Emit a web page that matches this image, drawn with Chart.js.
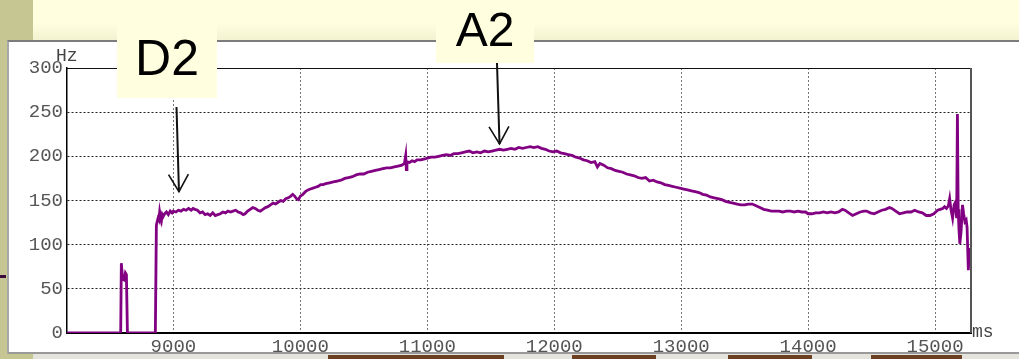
<!DOCTYPE html>
<html>
<head>
<meta charset="utf-8">
<script src="https://cdn.jsdelivr.net/npm/chart.js@4/dist/chart.umd.min.js"></script>
<style>
  body { margin: 0; width: 1019px; height: 359px; overflow: hidden; position: relative; background: #e4e4dc; }
  .bg { position: absolute; }
  #topband { left: 33px; top: 0; width: 986px; height: 41px; background: linear-gradient(to bottom, #ffffe0 0%, #ffffe0 55%, #f2f2d0 100%); }
  #olive { left: 0; top: 0; width: 33px; height: 359px; background: #c6c692; }
  #panel { left: 7px; top: 40px; width: 1012px; height: 314px; background: #fff; border-top: 2px solid #7c7c7c; border-left: 2px solid #a8a8a8; border-bottom: 2px solid #999; box-sizing: border-box; }
  #mark { left: 0; top: 275px; width: 6px; height: 3px; background: #3c0a3c; }
  .blk { top: 355px; height: 4px; background: #6b3f22; }
  canvas { position: absolute; left: 0; top: 0; }
</style>
</head>
<body>
<div class="bg" id="topband"></div>
<div class="bg" id="olive"></div>
<div class="bg" id="panel"></div>
<div class="bg" id="mark"></div>
<div class="bg blk" style="left:328px;width:176px"></div>
<div class="bg blk" style="left:572px;width:84px"></div>
<div class="bg blk" style="left:728px;width:84px"></div>
<div class="bg blk" style="left:871px;width:91px"></div>
<canvas id="pitch" width="1019" height="359"></canvas>
<script>
// time axis (ms) and pitch (Hz)
const timesMs = [
  8162, 8585, 8590, 8600, 8612, 8622, 8630, 8638, 8858, 8866, 8872, 8879, 8886, 8892, 8899, 8906, 8913, 8920, 8931, 8945,
  8960, 8975, 8990, 9000, 9020, 9040, 9060, 9080, 9100, 9120, 9140, 9155, 9170, 9190, 9210, 9230, 9250, 9270, 9290, 9310,
  9330, 9350, 9370, 9390, 9410, 9430, 9450, 9470, 9490, 9510, 9530, 9550, 9565, 9585, 9605, 9625, 9645, 9665, 9685, 9705,
  9725, 9745, 9765, 9785, 9805, 9825, 9845, 9865, 9885, 9905, 9925, 9940, 9955, 9970, 9985, 10000, 10020, 10040, 10060, 10080,
  10100, 10120, 10140, 10160, 10180, 10200, 10230, 10260, 10290, 10320, 10350, 10380, 10410, 10440, 10470, 10500, 10530, 10560, 10590, 10620,
  10650, 10680, 10710, 10740, 10770, 10800, 10820, 10830, 10835, 10840, 10860, 10880, 10900, 10920, 10950, 10980, 11000, 11030, 11060, 11090,
  11120, 11150, 11180, 11210, 11240, 11270, 11300, 11330, 11360, 11390, 11420, 11450, 11480, 11510, 11540, 11570, 11600, 11630, 11660, 11690,
  11720, 11750, 11780, 11810, 11840, 11870, 11900, 11930, 11960, 11990, 12020, 12050, 12080, 12110, 12140, 12170, 12200, 12230, 12260, 12290,
  12320, 12340, 12360, 12390, 12420, 12450, 12480, 12510, 12540, 12570, 12600, 12630, 12660, 12690, 12720, 12750, 12780, 12810, 12840, 12870,
  12900, 12930, 12960, 12990, 13020, 13050, 13080, 13110, 13140, 13170, 13200, 13230, 13260, 13290, 13320, 13350, 13380, 13410, 13440, 13470,
  13500, 13530, 13560, 13590, 13620, 13650, 13680, 13710, 13740, 13770, 13800, 13830, 13860, 13890, 13920, 13950, 13980, 14000, 14030, 14060,
  14090, 14120, 14150, 14180, 14210, 14240, 14270, 14290, 14320, 14350, 14380, 14410, 14440, 14460, 14490, 14520, 14550, 14580, 14610, 14640,
  14660, 14690, 14720, 14750, 14780, 14810, 14840, 14870, 14900, 14930, 14960, 14990, 15020, 15040, 15060, 15075, 15090, 15105, 15115, 15125,
  15138, 15150, 15160, 15170, 15176, 15182, 15188, 15195, 15205, 15216, 15225, 15235, 15245, 15252, 15262, 15270, 15278
];
const pitchHz = [
  0, 0, 79, 61, 60, 68, 66, 0, 0, 122, 126, 130, 128, 137, 131, 127, 134, 132, 135, 137,
  134, 138, 136, 138, 137, 139, 138, 140, 139, 141, 139, 141, 140, 139, 136, 137, 134, 135, 133, 136,
  133, 134, 135, 137, 136, 138, 137, 138, 139, 137, 136, 134, 135, 138, 140, 142, 141, 139, 138, 140,
  142, 143, 145, 147, 146, 148, 150, 149, 152, 153, 155, 157, 155, 152, 151, 155, 157, 160, 162, 163,
  164, 165, 166, 168, 168, 169, 170, 171, 172, 173, 175, 176, 177, 179, 180, 180, 182, 183, 184, 185,
  186, 187, 187, 188, 189, 190, 192, 201, 185, 194, 193, 195, 194, 196, 196, 197, 198, 199, 199, 200,
  201, 202, 201, 203, 203, 204, 205, 206, 204, 205, 204, 206, 205, 206, 207, 208, 207, 208, 209, 208,
  210, 209, 210, 211, 210, 211, 209, 208, 206, 205, 206, 204, 203, 202, 201, 199, 198, 196, 195, 193,
  194, 188, 192, 190, 187, 186, 184, 183, 182, 180, 179, 178, 176, 175, 176, 172, 173, 171, 170, 168,
  167, 166, 165, 164, 163, 162, 161, 160, 159, 157, 156, 154, 153, 152, 151, 149, 148, 147, 146, 145,
  145, 146, 146, 144, 142, 140, 139, 138, 138, 138, 137, 138, 138, 137, 138, 137, 137, 135, 135, 136,
  136, 137, 136, 137, 136, 137, 140, 139, 136, 133, 135, 137, 138, 138, 136, 135, 137, 139, 140, 142,
  141, 138, 135, 136, 137, 137, 139, 137, 136, 133, 133, 135, 139, 140, 141, 143, 141, 144, 152, 140,
  130, 145, 148, 130, 248, 140, 118, 101, 115, 145, 135, 126, 128, 120, 71, 95, 94
];
const xTickValues = [9000, 10000, 11000, 12000, 13000, 14000, 15000];
const yTickValues = [0, 50, 100, 150, 200, 250, 300];

const points = timesMs.map((t, i) => ({ x: t, y: pitchHz[i] }));
const monoFont = 'Liberation Mono, monospace';

// frame, unit labels and the D2 / A2 callouts
const decorPlugin = {
  id: 'decor',
  afterDraw(chart) {
    const { ctx, chartArea: a, scales } = chart;
    ctx.save();
    ctx.setLineDash([]);
    ctx.strokeStyle = '#111';
    ctx.lineWidth = 1;
    ctx.beginPath();
    ctx.moveTo(a.left, a.top + 0.5);
    ctx.lineTo(a.right, a.top + 0.5);
    ctx.stroke();
    ctx.strokeStyle = '#555';
    ctx.lineWidth = 2;
    ctx.beginPath();
    ctx.moveTo(a.right, a.top);
    ctx.lineTo(a.right, a.bottom);
    ctx.stroke();

    ctx.fillStyle = '#444';
    ctx.font = '18px ' + monoFont;
    ctx.textBaseline = 'alphabetic';
    ctx.textAlign = 'left';
    ctx.fillText('Hz', a.left - 11, a.top - 7);
    ctx.fillText('ms', a.right + 1, a.bottom + 4);

    const callouts = [
      { text: 'D2', size: 50, box: [117, 21, 100, 77], from: [176.5, 107], tip: [9044, 160] },
      { text: 'A2', size: 48, box: [436, -2, 98, 65], from: [497, 63], tip: [11569, 214] }
    ];
    callouts.forEach(c => {
      const [bx, by, bw, bh] = c.box;
      ctx.fillStyle = '#ffffe0';
      ctx.fillRect(bx, by, bw, bh);
      ctx.fillStyle = '#000';
      ctx.font = c.size + 'px Liberation Sans, Arial, sans-serif';
      ctx.textAlign = 'center';
      ctx.textBaseline = 'middle';
      ctx.fillText(c.text, bx + bw / 2, by + bh / 2 + 2);

      const tx = scales.x.getPixelForValue(c.tip[0]);
      const ty = scales.y.getPixelForValue(c.tip[1]);
      const [fx, fy] = c.from;
      const ang = Math.atan2(ty - fy, tx - fx);
      ctx.strokeStyle = '#111';
      ctx.lineWidth = 2;
      ctx.beginPath();
      ctx.moveTo(fx, fy);
      ctx.lineTo(tx, ty);
      ctx.stroke();
      ctx.lineWidth = 1.6;
      ctx.beginPath();
      ctx.moveTo(tx - 20 * Math.cos(ang - 0.52), ty - 20 * Math.sin(ang - 0.52));
      ctx.lineTo(tx, ty);
      ctx.lineTo(tx - 20 * Math.cos(ang + 0.52), ty - 20 * Math.sin(ang + 0.52));
      ctx.stroke();
    });
    ctx.restore();
  }
};

new Chart(document.getElementById('pitch').getContext('2d'), {
  type: 'line',
  data: {
    datasets: [{
      data: points,
      borderColor: '#820082',
      borderWidth: 2.8,
      pointRadius: 0,
      tension: 0
    }]
  },
  options: {
    responsive: false,
    animation: false,
    devicePixelRatio: 1,
    layout: { padding: { left: 0, top: 68, right: 48, bottom: 0 } },
    plugins: { legend: { display: false }, tooltip: { enabled: false } },
    scales: {
      x: {
        type: 'linear',
        min: 8162,
        max: 15283,
        afterBuildTicks: s => { s.ticks = xTickValues.map(v => ({ value: v })); },
        afterFit: s => { s.height = 26; },
        grid: { color: '#777', lineWidth: 1, drawTicks: false },
        border: { display: true, color: '#000', width: 2, dash: [2, 2] },
        ticks: { color: '#555', padding: 3, maxRotation: 0, font: { family: monoFont, size: 19 }, callback: v => String(v) }
      },
      y: {
        min: 0,
        max: 300,
        afterBuildTicks: s => { s.ticks = yTickValues.map(v => ({ value: v })); },
        afterFit: s => { s.width = 67; },
        grid: { color: '#222', lineWidth: 1, drawTicks: false },
        border: { display: true, color: '#000', width: 1.5, dash: [2, 2] },
        ticks: { color: '#555', padding: 4, font: { family: monoFont, size: 19 }, callback: v => String(v) }
      }
    }
  },
  plugins: [decorPlugin]
});
</script>
</body>
</html>
